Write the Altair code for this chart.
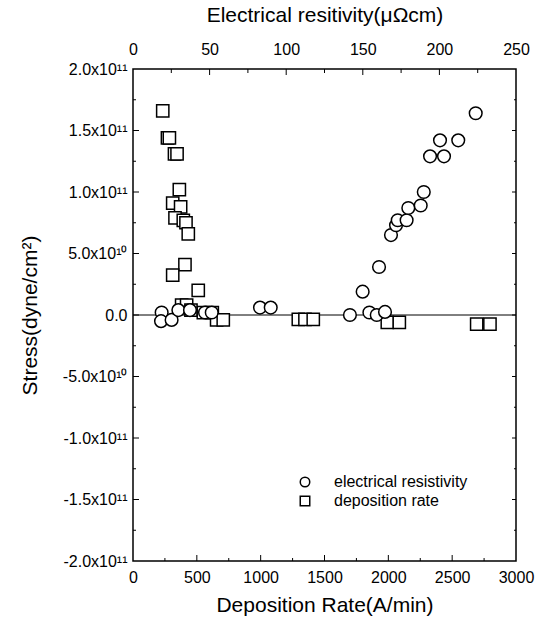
import altair as alt
import pandas as pd

# ---- data (stress in units of 1e10 dyne/cm^2) ----
res_x = [18.7, 18.3, 25.2, 29.6, 37.2, 47.0, 51.4, 82.9, 89.9,
         141.6, 149.9, 154.3, 159.1, 164.5, 160.6, 168.4, 171.7, 172.8,
         178.6, 179.7, 187.8, 189.8, 193.9, 203.0, 200.4, 212.3, 223.7]
res_y = [0.2, -0.5, -0.4, 0.4, 0.4, 0.2, 0.2, 0.6, 0.6,
         0.0, 1.9, 0.2, 0.0, 0.25, 3.9, 6.5, 7.3, 7.7,
         7.7, 8.7, 8.9, 10.0, 12.9, 12.9, 14.2, 14.2, 16.4]

dep_x = [233, 270, 285, 325, 345, 363, 311, 373, 329, 394, 415, 433, 407, 311,
         511, 381, 420, 454, 551, 621, 655, 707, 1295, 1347, 1412, 1992, 2086,
         2692, 2796]
dep_y = [16.6, 14.4, 14.4, 13.1, 13.1, 10.2, 9.1, 8.8, 7.9, 7.7, 7.5, 6.6, 4.1, 3.25,
         2.0, 0.8, 0.8, 0.4, 0.2, 0.2, -0.4, -0.4, -0.35, -0.35, -0.35, -0.6, -0.6,
         -0.75, -0.75]

series_names = ["electrical resistivity", "deposition rate"]

y_values = [-20, -15, -10, -5, 0, 5, 10, 15, 20]
y_labels = ["-2.0x10¹¹", "-1.5x10¹¹", "-1.0x10¹¹", "-5.0x10¹⁰", "0.0",
            "5.0x10¹⁰", "1.0x10¹¹", "1.5x10¹¹", "2.0x10¹¹"]
bottom_values = [0, 500, 1000, 1500, 2000, 2500, 3000]
top_values = [0, 50, 100, 150, 200, 250]

bottom_major = [500, 1000, 1500, 2000, 2500]
bottom_minor = [250, 750, 1250, 1750, 2250, 2750]
top_major = [50, 100, 150, 200]
top_minor = [25, 75, 125, 175, 225]
y_major = [-15, -10, -5, 0, 5, 10, 15]
y_minor = [-17.5, -12.5, -7.5, -2.5, 2.5, 7.5, 12.5, 17.5]

W, H = 383, 492
FONT = "Liberation Sans"
LBL = 16

res_df = pd.DataFrame({"res": res_x, "stress": res_y, "series": series_names[0]})
dep_df = pd.DataFrame({"dep": dep_x, "stress": dep_y, "series": series_names[1]})

y_scale = alt.Scale(domain=[-20, 20], nice=False, zero=False)
dep_scale = alt.Scale(domain=[0, 3000], nice=False, zero=False)
res_scale = alt.Scale(domain=[0, 250], nice=False, zero=False)

label_arr = "[" + ",".join("'" + s + "'" for s in y_labels) + "]"
y_axis = alt.Axis(values=y_values, labelExpr=label_arr + "[round((datum.value + 20) / 5)]",
                  title="Stress(dyne/cm²)", labelPadding=6, titlePadding=22,
                  labelFontSize=LBL, labelFont=FONT,
                  ticks=False, domain=False, grid=False)

shape_enc = alt.Shape("series:N",
                      scale=alt.Scale(domain=series_names, range=["circle", "square"]),
                      legend=alt.Legend(title=None, orient="none", legendX=164, legendY=405,
                                        symbolSize=90, symbolStrokeWidth=1.5,
                                        labelFontSize=16, labelFont=FONT, labelColor="black",
                                        labelOffset=21, rowPadding=3))

squares = alt.Chart(dep_df).mark_point(size=150, filled=True, fill="white", fillOpacity=1,
                                       stroke="black", strokeWidth=1.5, opacity=1).encode(
    x=alt.X("dep:Q", scale=dep_scale,
            axis=alt.Axis(orient="bottom", values=bottom_values, format="d",
                          title="Deposition Rate(A/min)", labelFontSize=LBL, labelFont=FONT,
                          labelPadding=8, titlePadding=9, ticks=False, domain=False, grid=False,
                          labelFlush=False)),
    y=alt.Y("stress:Q", scale=y_scale, axis=y_axis),
    shape=shape_enc,
)

circles = alt.Chart(res_df).mark_point(size=160, filled=True, fill="white", fillOpacity=1,
                                       stroke="black", strokeWidth=1.5, opacity=1).encode(
    x=alt.X("res:Q", scale=res_scale,
            axis=alt.Axis(orient="top", values=top_values, format="d",
                          title="Electrical resitivity(μΩcm)", labelFontSize=LBL, labelFont=FONT,
                          labelPadding=12, titlePadding=16, ticks=False, domain=False, grid=False,
                          labelFlush=False)),
    y=alt.Y("stress:Q", scale=y_scale, axis=y_axis),
    shape=shape_enc,
)

zero = alt.Chart(pd.DataFrame({"stress": [0]})).mark_rule(color="black", strokeWidth=1).encode(
    y=alt.Y("stress:Q", scale=y_scale, axis=y_axis))


def xticks(vals, field, scale, at_bottom, length):
    df = pd.DataFrame({field: vals})
    if at_bottom:
        yy, yy2 = alt.value(H), alt.value(H - length)
    else:
        yy, yy2 = alt.value(0), alt.value(length)
    return alt.Chart(df).mark_rule(color="black", strokeWidth=1).encode(
        x=alt.X(field + ":Q", scale=scale, axis=None), y=yy, y2=yy2)


def yticks(vals, at_left, length):
    df = pd.DataFrame({"stress": vals})
    if at_left:
        xx, xx2 = alt.value(0), alt.value(length)
    else:
        xx, xx2 = alt.value(W), alt.value(W - length)
    return alt.Chart(df).mark_rule(color="black", strokeWidth=1).encode(
        y=alt.Y("stress:Q", scale=y_scale, axis=y_axis), x=xx, x2=xx2)


layers = [
    zero,
    xticks(bottom_major, "dep", dep_scale, True, 6),
    xticks(bottom_minor, "dep", dep_scale, True, 3),
    xticks(top_major, "res", res_scale, False, 6),
    xticks(top_minor, "res", res_scale, False, 4),
    yticks(y_major, True, 6),
    yticks(y_minor, True, 3),
    yticks(y_major, False, 4),
    yticks(y_minor, False, 2),
    squares,
    circles,
]

chart = alt.layer(*layers).resolve_scale(x="independent").properties(
    width=W, height=H,
    autosize=alt.AutoSizeParams(type="none"),
    padding={"left": 133, "top": 69, "right": 21, "bottom": 64},
    background="white",
).configure_view(stroke="black", strokeWidth=1.5).configure_axis(
    labelFont=FONT, labelFontSize=LBL, labelColor="black",
    titleFont=FONT, titleFontSize=21, titleFontWeight="normal", titleColor="black",
)

chart.save("out.html", embed_options={"renderer": "svg", "actions": False})
